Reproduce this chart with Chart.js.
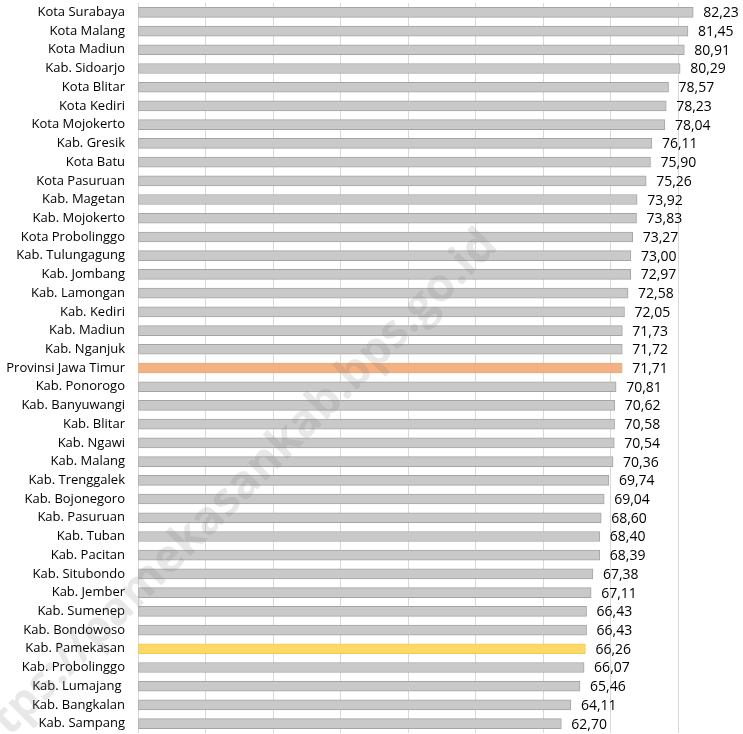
<!DOCTYPE html>
<html>
<head>
<meta charset="utf-8">
<script src="https://cdn.jsdelivr.net/npm/chart.js@4/dist/chart.umd.min.js"></script>
<style>
html,body{margin:0;padding:0;background:#fff;overflow:hidden;}
canvas{display:block;}
</style>
</head>
<body>
<canvas id="c" width="743" height="734"></canvas>
<script>
const categories = [
  "Kota Surabaya","Kota Malang","Kota Madiun","Kab. Sidoarjo","Kota Blitar","Kota Kediri",
  "Kota Mojokerto","Kab. Gresik","Kota Batu","Kota Pasuruan","Kab. Magetan","Kab. Mojokerto",
  "Kota Probolinggo","Kab. Tulungagung","Kab. Jombang","Kab. Lamongan","Kab. Kediri","Kab. Madiun",
  "Kab. Nganjuk","Provinsi Jawa Timur","Kab. Ponorogo","Kab. Banyuwangi","Kab. Blitar","Kab. Ngawi",
  "Kab. Malang","Kab. Trenggalek","Kab. Bojonegoro","Kab. Pasuruan","Kab. Tuban","Kab. Pacitan",
  "Kab. Situbondo","Kab. Jember","Kab. Sumenep","Kab. Bondowoso","Kab. Pamekasan","Kab. Probolinggo",
  "Kab. Lumajang ","Kab. Bangkalan","Kab. Sampang"
];
const values = [
  82.23,81.45,80.91,80.29,78.57,78.23,
  78.04,76.11,75.90,75.26,73.92,73.83,
  73.27,73.00,72.97,72.58,72.05,71.73,
  71.72,71.71,70.81,70.62,70.58,70.54,
  70.36,69.74,69.04,68.60,68.40,68.39,
  67.38,67.11,66.43,66.43,66.26,66.07,
  65.46,64.11,62.70
];
const provinceName = "Provinsi Jawa Timur";
const highlightName = "Kab. Pamekasan";
const watermarkText = "https://pamekasankab.bps.go.id";

const fillColors = categories.map(c => c === provinceName ? '#f4b183' : (c === highlightName ? '#ffd966' : '#c9c9c9'));
const borderColors = categories.map(c => c === provinceName ? '#eaa878' : (c === highlightName ? '#f0c95a' : '#a5a5a5'));

const valueLabels = {
  id: 'valueLabels',
  afterDatasetsDraw(chart) {
    const ctx = chart.ctx;
    const meta = chart.getDatasetMeta(0);
    ctx.save();
    ctx.font = '14px "Open Sans", sans-serif';
    ctx.fillStyle = '#000';
    ctx.textAlign = 'left';
    ctx.textBaseline = 'middle';
    meta.data.forEach((bar, i) => {
      const txt = values[i].toFixed(2).replace('.', ',');
      ctx.fillText(txt, bar.x + 10, bar.y + 1);
    });
    ctx.restore();
  }
};

const watermark = {
  id: 'watermark',
  afterDraw(chart) {
    const ctx = chart.ctx;
    ctx.save();
    ctx.translate(490, 238);
    ctx.rotate(-Math.PI / 4);
    ctx.font = 'bold 46px "Open Sans", sans-serif';
    ctx.fillStyle = 'rgba(120,120,120,0.17)';
    ctx.textAlign = 'right';
    ctx.textBaseline = 'middle';
    ctx.fillText(watermarkText, 0, 0);
    ctx.restore();
  }
};

new Chart(document.getElementById('c'), {
  type: 'bar',
  data: {
    labels: categories,
    datasets: [{
      data: values,
      backgroundColor: fillColors,
      borderColor: borderColors,
      borderWidth: 1,
      borderSkipped: false,
      barThickness: 10
    }]
  },
  options: {
    indexAxis: 'y',
    responsive: false,
    animation: false,
    devicePixelRatio: 1,
    layout: { padding: { top: 3, bottom: 1, left: 0, right: 0 } },
    plugins: { legend: { display: false }, tooltip: { enabled: false } },
    scales: {
      x: {
        min: 0,
        max: 89.6,
        ticks: { display: false, stepSize: 10 },
        grid: {
          drawTicks: false,
          color: (c) => (c.tick && Math.abs(c.tick.value % 10) < 1e-6) ? '#d9d9d9' : 'rgba(0,0,0,0)',
          lineWidth: 1
        },
        border: { display: false },
        afterFit(scale) { scale.height = 0; scale.paddingLeft = 0; scale.paddingRight = 0; }
      },
      y: {
        grid: { display: false, drawTicks: false },
        border: { display: false },
        ticks: {
          padding: 13,
          color: '#000',
          font: { family: '"Open Sans", sans-serif', size: 13 },
          autoSkip: false
        },
        afterFit(scale) { scale.width = 138; scale.paddingTop = 0; scale.paddingBottom = 0; }
      }
    }
  },
  plugins: [valueLabels, watermark]
});
</script>
</body>
</html>
